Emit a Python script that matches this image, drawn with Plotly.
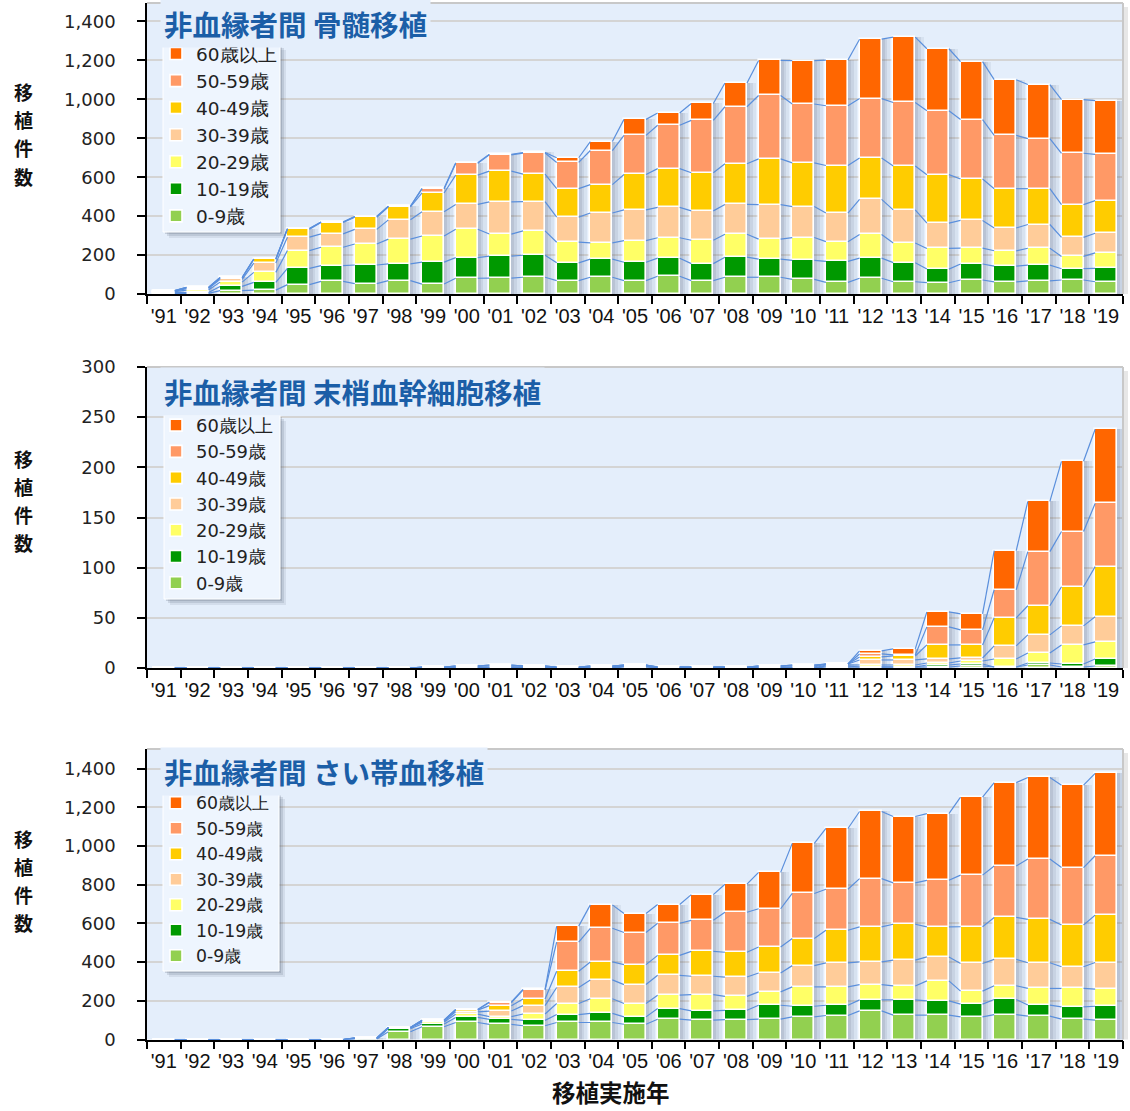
import plotly.graph_objects as go

W, H = 1130, 1111

years = ["'91", "'92", "'93", "'94", "'95", "'96", "'97", "'98", "'99", "'00",
         "'01", "'02", "'03", "'04", "'05", "'06", "'07", "'08", "'09", "'10",
         "'11", "'12", "'13", "'14", "'15", "'16", "'17", "'18", "'19"]
age_groups = ["0-9歳", "10-19歳", "20-29歳", "30-39歳", "40-49歳", "50-59歳", "60歳以上"]
colors = ["#92d050", "#009900", "#ffff66", "#ffcc99", "#ffcc00", "#ff9966", "#ff6600"]

# 非血縁者間 骨髄移植
bm_0_9   = [3, 3, 17, 20, 48, 65, 53, 69, 51, 81, 82, 86, 69, 86, 69, 91, 69, 86, 86, 75, 60, 81, 63, 58, 72, 62, 67, 72, 63]
bm_10_19 = [4, 5, 22, 40, 84, 81, 96, 86, 113, 106, 113, 113, 91, 93, 94, 93, 87, 103, 93, 98, 108, 103, 98, 70, 82, 81, 81, 58, 69]
bm_20_29 = [5, 12, 22, 51, 91, 94, 108, 127, 134, 146, 113, 125, 106, 84, 111, 105, 120, 118, 103, 117, 101, 122, 101, 106, 82, 79, 87, 63, 79]
bm_30_39 = [3, 8, 14, 48, 69, 69, 75, 99, 125, 127, 165, 151, 129, 153, 158, 156, 151, 153, 177, 159, 147, 180, 170, 130, 142, 117, 122, 98, 101]
bm_40_49 = [2, 4, 7, 19, 41, 58, 62, 67, 96, 151, 158, 141, 146, 146, 182, 199, 196, 209, 235, 225, 244, 213, 226, 249, 213, 202, 184, 168, 168]
bm_50_59 = [0, 2, 3, 2, 3, 3, 4, 3, 21, 60, 84, 108, 135, 175, 201, 223, 269, 293, 326, 302, 307, 305, 326, 328, 305, 274, 257, 264, 237]
bm_60    = [0, 0, 0, 0, 0, 0, 0, 0, 3, 3, 3, 3, 24, 46, 82, 63, 87, 122, 180, 223, 235, 305, 336, 319, 298, 286, 278, 276, 276]

# 非血縁者間 末梢血幹細胞移植
pb_0_9   = [0, 0, 0, 0, 0, 0, 0, 0, 0, 0, 0, 0, 0, 0, 1, 0, 0, 0, 0, 0, 1, 1, 1, 1, 2, 1, 3, 1, 2]
pb_10_19 = [0, 0, 0, 0, 0, 0, 0, 0, 0, 0, 0, 0, 0, 0, 1, 0, 0, 0, 0, 0, 1, 0, 0, 2, 2, 0, 2, 3, 7]
pb_20_29 = [0, 0, 0, 0, 0, 0, 0, 0, 0, 1, 0, 0, 0, 1, 0, 0, 0, 0, 0, 0, 1, 2, 2, 2, 3, 8, 10, 19, 17]
pb_30_39 = [0, 0, 0, 0, 0, 0, 0, 0, 0, 0, 1, 1, 0, 0, 0, 1, 0, 0, 1, 1, 1, 5, 5, 4, 3, 13, 18, 19, 25]
pb_40_49 = [0, 0, 0, 0, 0, 0, 0, 0, 1, 1, 1, 1, 1, 1, 1, 0, 1, 1, 1, 1, 0, 3, 4, 14, 13, 28, 29, 39, 50]
pb_50_59 = [0, 0, 0, 0, 0, 0, 0, 0, 0, 0, 1, 0, 0, 0, 0, 0, 0, 0, 0, 1, 0, 3, 1, 18, 15, 28, 54, 55, 63]
pb_60    = [0, 0, 0, 0, 0, 0, 0, 0, 0, 0, 0, 0, 0, 0, 0, 0, 0, 0, 0, 0, 0, 3, 6, 15, 16, 39, 50, 70, 74]

# 非血縁者間 さい帯血移植
cb_0_9   = [0, 0, 0, 0, 0, 0, 3, 40, 66, 88, 78, 71, 88, 88, 79, 105, 100, 103, 105, 117, 124, 148, 126, 126, 117, 129, 121, 105, 100]
cb_10_19 = [0, 0, 0, 0, 0, 0, 1, 16, 14, 26, 26, 28, 41, 47, 38, 55, 48, 48, 72, 55, 53, 57, 79, 74, 66, 78, 57, 64, 72]
cb_20_29 = [0, 0, 0, 0, 0, 0, 1, 5, 10, 17, 14, 33, 57, 76, 69, 69, 84, 72, 69, 100, 95, 79, 72, 103, 67, 71, 86, 95, 88]
cb_30_39 = [0, 0, 0, 0, 0, 0, 1, 1, 5, 12, 29, 43, 83, 97, 98, 103, 95, 100, 98, 110, 124, 117, 133, 124, 143, 136, 133, 112, 138]
cb_40_49 = [0, 0, 0, 0, 0, 0, 1, 0, 4, 9, 28, 34, 84, 93, 103, 103, 129, 128, 134, 140, 169, 181, 186, 155, 190, 217, 224, 216, 245]
cb_50_59 = [0, 0, 0, 0, 0, 0, 1, 0, 1, 3, 16, 47, 150, 174, 166, 166, 160, 207, 198, 233, 212, 250, 214, 241, 267, 266, 312, 297, 307]
cb_60    = [0, 0, 0, 0, 0, 0, 0, 0, 0, 0, 3, 3, 83, 121, 98, 97, 133, 145, 188, 259, 314, 347, 343, 345, 403, 431, 422, 426, 426]

panel_titles = ["非血縁者間 骨髄移植", "非血縁者間 末梢血幹細胞移植", "非血縁者間 さい帯血移植"]
panel_series = [
    [bm_0_9, bm_10_19, bm_20_29, bm_30_39, bm_40_49, bm_50_59, bm_60],
    [pb_0_9, pb_10_19, pb_20_29, pb_30_39, pb_40_49, pb_50_59, pb_60],
    [cb_0_9, cb_10_19, cb_20_29, cb_30_39, cb_40_49, cb_50_59, cb_60],
]
y_ticks = [list(range(0, 1401, 200)), list(range(0, 301, 50)), list(range(0, 1401, 200))]
y_ranges = [[0, 1495], [0, 300], [0, 1502]]

# pixel geometry (layout only)
panel_px = [(3, 294), (367, 668), (749, 1039.5)]
x_left, x_right = 147, 1123
legend_box_px = [(163, 280, 44, 232), (164, 280, 415, 599), (163, 279, 793, 971)]
legend_top_px = [35, 407, 785]
legend_font = [18.5, 17.9, 17.3]
title_y_px = [24, 391, 771]
ytitle_center_px = [134, 500, 880]
ytitle_step = 28


def px(x):
    return x / W


def py(y):
    return 1 - y / H


BG = "#e4eefb"
BAR_W = 0.655
FONT = "DejaVu Sans"
XFONT = "Liberation Sans"
CJK = "Noto Sans CJK JP"

fig = go.Figure()
shapes = []
annotations = []
n = len(years)
xs = list(range(n))

for p in range(3):
    sfx = "" if p == 0 else str(p + 1)
    xa, ya = "x" + sfx, "y" + sfx
    series = panel_series[p]
    totals = [sum(s[i] for s in series) for i in range(n)]

    # bar shadows
    for off, a in [(0.26, 0.07), (0.17, 0.09), (0.09, 0.11)]:
        fig.add_trace(go.Bar(
            x=[i + off for i in xs], y=totals, width=BAR_W,
            marker=dict(color=f"rgba(60,70,95,{a})", line=dict(width=0)),
            xaxis=xa, yaxis=ya, showlegend=False, hoverinfo="skip"))

    # stacked segments
    cum = [0] * n
    tops = []
    for k in range(7):
        vals = series[k]
        fig.add_trace(go.Bar(
            x=xs, y=vals, base=list(cum), width=BAR_W,
            name=age_groups[k],
            marker=dict(color=colors[k], line=dict(color="white", width=1.6)),
            xaxis=xa, yaxis=ya,
            legend="legend" + sfx, showlegend=True,
            hovertemplate="%{y}<extra>" + age_groups[k] + "</extra>"))
        cum = [cum[i] + vals[i] for i in range(n)]
        tops.append(list(cum))

    # connector lines between bars
    lx, ly = [], []
    for lvl in tops:
        for i in range(n - 1):
            lx += [i + BAR_W / 2, i + 1 - BAR_W / 2, None]
            ly += [lvl[i], lvl[i + 1], None]
    fig.add_trace(go.Scatter(
        x=lx, y=ly, mode="lines", line=dict(color="#5a8fdc", width=1.2),
        xaxis=xa, yaxis=ya, showlegend=False, hoverinfo="skip"))

    top_px, bot_px = panel_px[p]
    dom_y = [py(bot_px), py(top_px)]
    dom_x = [px(x_left), px(x_right)]

    fig.update_layout(**{
        "xaxis" + sfx: dict(
            domain=dom_x, anchor=ya, range=[-0.5, n - 0.5], automargin=False,
            tickmode="array", tickvals=xs, ticktext=years, ticks="",
            showline=True, linecolor="black", linewidth=1.5,
            showgrid=False, zeroline=False, ticklabelstandoff=3,
            tickfont=dict(family=XFONT, size=20, color="#111"),
            minor=dict(tickmode="array", tickvals=[i - 0.5 for i in range(n + 1)],
                       ticks="outside", ticklen=8, tickcolor="black", tickwidth=1.5,
                       showgrid=False),
            fixedrange=True),
        "yaxis" + sfx: dict(
            domain=dom_y, anchor=xa, range=y_ranges[p], automargin=False,
            tickmode="array", tickvals=y_ticks[p],
            ticktext=[f"{v:,}" for v in y_ticks[p]],
            ticks="outside", ticklen=8, tickcolor="black", tickwidth=1.5,
            showline=True, linecolor="black", linewidth=1.5,
            showgrid=True, gridcolor="#d4d4d4", gridwidth=1.5, zeroline=False,
            ticklabelstandoff=18,
            tickfont=dict(family=FONT, size=18, color="#222"),
            fixedrange=True),
        "legend" + sfx: dict(
            x=px(156), y=py(legend_top_px[p]), xanchor="left", yanchor="top",
            xref="paper", yref="paper",
            bgcolor="rgba(0,0,0,0)", borderwidth=0,
            font=dict(family=FONT, size=legend_font[p], color="#222"),
            traceorder="reversed", itemclick=False, itemdoubleclick=False),
    })

    # plot border top/right + right shadow
    shapes.append(dict(type="line", xref="paper", yref="paper",
                       x0=dom_x[0], x1=dom_x[1], y0=dom_y[1], y1=dom_y[1],
                       line=dict(color="#c8c8c8", width=2)))
    shapes.append(dict(type="line", xref="paper", yref="paper",
                       x0=dom_x[1], x1=dom_x[1], y0=dom_y[0], y1=dom_y[1],
                       line=dict(color="#c8c8c8", width=2)))
    shapes.append(dict(type="rect", xref="paper", yref="paper",
                       x0=px(x_right + 1), x1=px(x_right + 5), y0=dom_y[0], y1=py(top_px + 4),
                       line=dict(width=0), fillcolor="rgba(120,120,120,0.18)", layer="below"))

    # legend box with drop shadow
    bx0, bx1, by0, by1 = legend_box_px[p]
    for d, a in [(6, 0.10), (4, 0.15), (2, 0.2)]:
        shapes.append(dict(type="rect", xref="paper", yref="paper",
                           x0=px(bx0 + d), x1=px(bx1 + d), y0=py(by1 + d), y1=py(by0 + d),
                           line=dict(width=0), fillcolor=f"rgba(70,80,100,{a})", layer="above"))
    shapes.append(dict(type="rect", xref="paper", yref="paper",
                       x0=px(bx0), x1=px(bx1), y0=py(by1), y1=py(by0),
                       line=dict(color="#ffffff", width=1), fillcolor="#eef5fe", layer="above"))

    # panel title
    annotations.append(dict(
        text="<b>" + panel_titles[p] + "</b>", xref="paper", yref="paper",
        x=px(160), y=py(title_y_px[p]), xanchor="left", yanchor="middle",
        showarrow=False, bgcolor=BG, borderpad=3,
        font=dict(family=CJK, size=28.5, color="#1b5ea7")))
    # y-axis title (vertical characters, one annotation each)
    c = ytitle_center_px[p]
    for j, ch in enumerate("移植件数"):
        annotations.append(dict(
            text="<b>" + ch + "</b>", xref="paper", yref="paper",
            x=px(23), y=py(c + (j - 1.5) * ytitle_step), xanchor="center", yanchor="middle",
            showarrow=False, font=dict(family=CJK, size=19, color="#111")))

annotations.append(dict(
    text="<b>移植実施年</b>", xref="paper", yref="paper",
    x=px(611), y=py(1092), xanchor="center", yanchor="middle",
    showarrow=False, font=dict(family=CJK, size=23.5, color="#111")))

fig.update_layout(
    width=W, height=H, autosize=False,
    margin=dict(l=0, r=0, t=0, b=0, autoexpand=False),
    paper_bgcolor="white", plot_bgcolor=BG,
    barmode="overlay", bargap=0,
    shapes=shapes, annotations=annotations,
    font=dict(family=FONT),
    showlegend=True,
)

fig.write_html("out.html", config={"displayModeBar": False},
               post_script="document.body.style.margin='0';document.body.style.overflow='hidden';")
